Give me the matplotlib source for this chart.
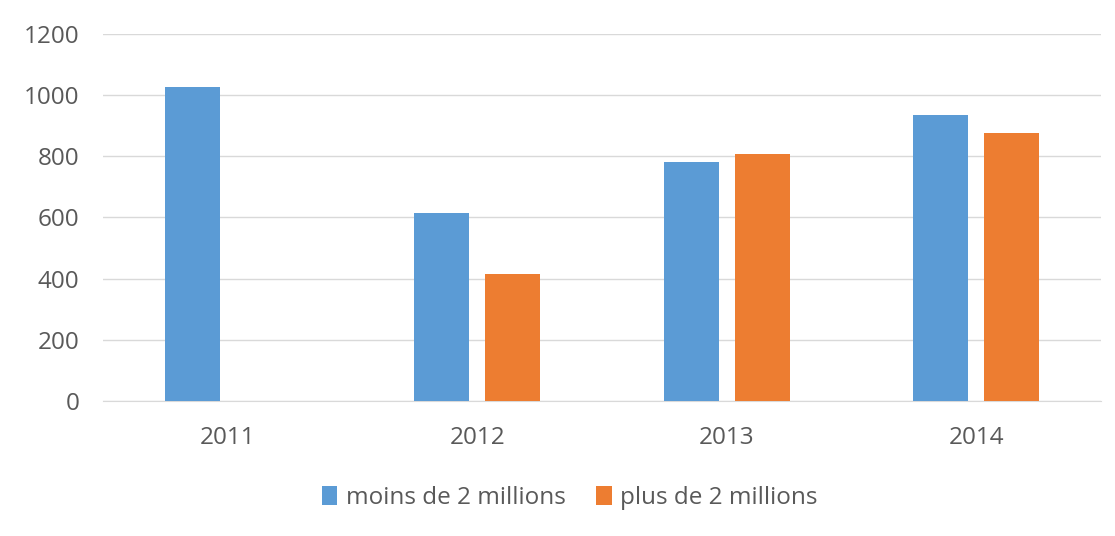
import numpy as np
import matplotlib.pyplot as plt

annees = ['2011', '2012', '2013', '2014']
moins_2m = [1028, 615, 780, 935]
plus_2m = [0, 415, 808, 877]
noms = ['moins de 2 millions', 'plus de 2 millions']
couleurs = ['#5B9BD5', '#ED7D31']
gris = '#595959'

plt.rcParams['font.family'] = ['Open Sans', 'DejaVu Sans']

fig = plt.figure(figsize=(11.15, 5.36), dpi=100)
ax = fig.add_axes([0.0924, 0.2519, 0.895, 0.6847])

x = np.arange(len(annees))
largeur = 0.22
decal = 0.142
ax.bar(x - decal, moins_2m, largeur, color=couleurs[0], label=noms[0], zorder=3)
ax.bar(x + decal, plus_2m, largeur, color=couleurs[1], label=noms[1], zorder=3)

ax.set_xlim(-0.5, len(annees) - 0.5)
ax.set_ylim(0, 1200)
ax.set_yticks(range(0, 1201, 200))
ax.set_xticks(x)
ax.set_xticklabels(annees)

ax.grid(axis='y', color='#d9d9d9', linewidth=1, zorder=0)
for s in ['top', 'right', 'left']:
    ax.spines[s].set_visible(False)
ax.spines['bottom'].set_color('#d9d9d9')
ax.tick_params(axis='both', length=0, colors=gris, labelsize=17.5)
ax.tick_params(axis='y', pad=17)
ax.tick_params(axis='x', pad=18)

fig.legend(loc='center', bbox_to_anchor=(0.511, 0.071), ncol=2, frameon=False,
           fontsize=17.5, labelcolor=gris, handlelength=0.65, handleheight=0.85,
           handletextpad=0.35, columnspacing=1.25)

fig.savefig('out.png', dpi=100)
